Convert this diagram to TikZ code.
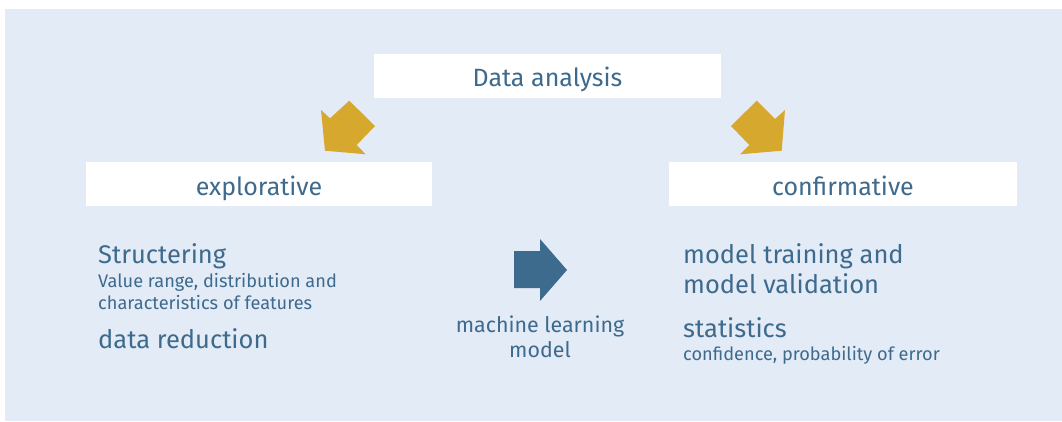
\documentclass[tikz,border=0pt]{standalone}
\usepackage{fontspec}
\setmainfont{Fira Sans}
\definecolor{bgblue}{HTML}{E3EBF6}
\definecolor{txtblue}{HTML}{3D6A8D}
\definecolor{gold}{HTML}{D6A82E}
\definecolor{arrowblue}{HTML}{3D6B8E}
\tikzset{
  whitebox/.style={fill=white, draw=none, inner sep=0pt},
  headtxt/.style={anchor=base, inner sep=0pt, font=\fontsize{25}{28}\selectfont, text=txtblue},
  bigtxt/.style={anchor=base west, inner sep=0pt, font=\fontsize{25.5}{30}\selectfont, text=txtblue},
  smalltxt/.style={anchor=base west, inner sep=0pt, font=\fontsize{18.2}{22}\selectfont, text=txtblue},
  midtxt/.style={anchor=base, inner sep=0pt, font=\fontsize{21.4}{25}\selectfont, text=txtblue},
  goldarrow/.style={fill=gold, draw=none},
  bluearrow/.style={fill=arrowblue, draw=none}
}
\begin{document}
\begin{tikzpicture}[x=1pt, y=-1pt]
\useasboundingbox (0,0) rectangle (1062,421);
\fill[bgblue] (5,9) rectangle (1062,421);
% boxes
\node[whitebox, minimum width=347pt, minimum height=44pt] (analysis) at (547.5,76) {};
\node[whitebox, minimum width=346pt, minimum height=44pt] (explor) at (259,184) {};
\node[whitebox, minimum width=348pt, minimum height=44pt] (confirm) at (843,184) {};
\node[headtxt] (analysis-t) at (547.5,86) {Data analysis};
\node[headtxt] (explor-t) at (259,195) {explorative};
\node[headtxt] (confirm-t) at (843,195) {confirmative};
% gold arrows
\fill[goldarrow] (321,110) -- (330,118.3) -- (349.3,100.7) -- (375,126) -- (356.7,145) -- (365.7,154.3) -- (325,150.7) -- cycle;
\fill[goldarrow] (785,110) -- (775,119) -- (756.7,100.7) -- (731,126) -- (749.3,145) -- (740,154.3) -- (781.7,150.7) -- cycle;
% blue arrow
\fill[bluearrow] (514,251) -- (540,251) -- (540,239) -- (567,270) -- (540,301) -- (540,288) -- (514,288) -- cycle;
% left texts
\node[bigtxt] (struct) at (98,263) {Structering};
\node[smalltxt] (value) at (98,287) {Value range, distribution and};
\node[smalltxt] (charac) at (98,309) {characteristics of features};
\node[bigtxt] (reduct) at (98,348) {data reduction};
% middle texts
\node[midtxt] (ml) at (540,332) {machine learning};
\node[midtxt] (mlmodel) at (540,357) {model};
% right texts
\node[bigtxt] (train) at (683,263) {model training and};
\node[bigtxt] (valid) at (683,293) {model validation};
\node[bigtxt] (stats) at (683,337) {statistics};
\node[smalltxt] (conf) at (683,360) {confidence, probability of error};
\end{tikzpicture}
\end{document}
